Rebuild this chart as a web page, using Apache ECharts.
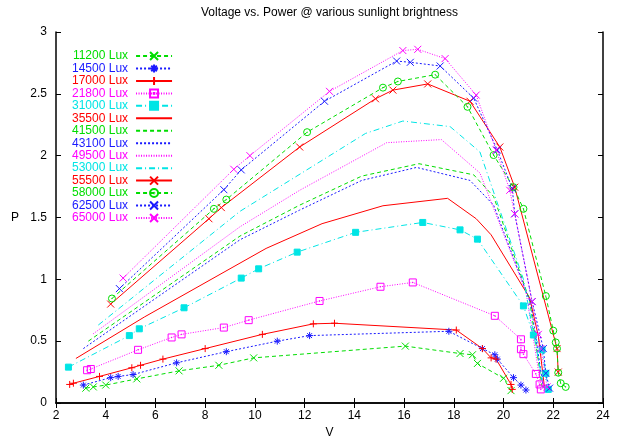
<!DOCTYPE html>
<html><head><meta charset="utf-8">
<script src="https://cdn.jsdelivr.net/npm/echarts@6/dist/echarts.min.js"></script>
<style>html,body{margin:0;padding:0;background:#fff}#c{width:618px;height:441px}</style>
</head><body><div id="c"></div>
<script>
// ---- data ----
const titleText = 'Voltage vs. Power @ various sunlight brightness';
const xName = 'V';
const yName = 'P';
const xMin = 2, xMax = 24, xStep = 2;
const yMin = 0, yMax = 3, yStep = 0.5;
const seriesNames = ['11200 Lux','14500 Lux','17000 Lux','21800 Lux','31000 Lux','35500 Lux','41500 Lux','43100 Lux','49500 Lux','53000 Lux','55500 Lux','58000 Lux','62500 Lux','65000 Lux'];

const s11200 = [[3.2,0.12],[3.5,0.13],[4.0,0.145],[5.25,0.195],[6.95,0.26],[8.55,0.305],[9.95,0.365],[16.05,0.46],[18.25,0.40],[18.75,0.39],[18.95,0.32],[20.0,0.20],[20.3,0.10]];
const s14500 = [[3.1,0.145],[4.2,0.205],[4.5,0.215],[5.1,0.23],[6.85,0.325],[8.85,0.415],[10.9,0.50],[12.2,0.545],[17.8,0.58],[19.15,0.44],[19.65,0.39],[19.75,0.355],[20.4,0.205],[20.7,0.145],[20.9,0.105]];
const s17000 = [[2.55,0.15],[2.7,0.16],[3.75,0.215],[5.05,0.285],[5.4,0.305],[6.3,0.355],[8.0,0.44],[10.3,0.555],[12.35,0.64],[13.2,0.645],[18.1,0.59],[19.15,0.44],[19.5,0.365],[19.7,0.355],[20.3,0.15],[20.35,0.11]];
const s21800 = [[3.25,0.265],[3.4,0.275],[5.3,0.43],[6.65,0.53],[7.05,0.555],[8.75,0.61],[9.75,0.67],[12.6,0.825],[15.05,0.94],[16.35,0.975],[19.65,0.705],[20.7,0.515],[20.7,0.435],[20.8,0.395],[21.3,0.235],[21.45,0.15],[21.5,0.11]];
const s31000 = [[2.5,0.29],[4.95,0.545],[5.35,0.6],[7.15,0.77],[9.45,1.01],[10.15,1.085],[11.7,1.22],[14.05,1.38],[16.75,1.46],[18.25,1.40],[18.95,1.325],[20.8,0.785],[21.2,0.55],[21.55,0.43],[21.7,0.24],[21.8,0.11]];
const s35500 = [[2.8,0.36],[5.55,0.695],[10.45,1.25],[12.7,1.45],[15.15,1.595],[17.75,1.655],[18.9,1.49],[19.5,1.36],[21.05,0.85],[21.4,0.54],[21.65,0.12]];
const s41500 = [[3.3,0.50],[9.4,1.35],[11.8,1.6],[14.3,1.835],[16.6,1.935],[18.8,1.845],[19.6,1.67],[21.05,0.83],[21.55,0.13]];
const s43100 = [[3.1,0.44],[9.4,1.32],[11.8,1.56],[14.3,1.80],[16.5,1.905],[18.65,1.80],[19.6,1.6],[21.1,0.8],[21.6,0.12]];
const s49500 = [[3.5,0.56],[9.4,1.425],[11.8,1.72],[15.3,2.105],[17.5,2.13],[19.05,1.86],[20.9,0.9],[21.5,0.14]];
const s53000 = [[3.7,0.63],[9.4,1.55],[14.45,2.18],[15.95,2.28],[17.85,2.235],[19.05,2.03],[20.8,1.0],[21.6,0.14]];
const s55500 = [[4.2,0.80],[8.15,1.49],[8.65,1.58],[11.8,2.07],[14.85,2.46],[15.55,2.53],[16.95,2.58],[18.65,2.44],[19.85,2.07],[20.45,1.745],[22.15,0.44],[22.2,0.25]];
const s58000 = [[4.25,0.845],[8.35,1.57],[8.85,1.645],[12.1,2.19],[15.15,2.55],[15.75,2.60],[17.25,2.655],[18.55,2.395],[19.6,2.005],[20.4,1.745],[20.8,1.57],[21.7,0.865],[22.0,0.585],[22.1,0.49],[22.15,0.44],[22.2,0.245],[22.3,0.16],[22.5,0.13]];
const s62500 = [[4.55,0.925],[8.75,1.725],[9.45,1.885],[12.8,2.44],[15.7,2.765],[16.25,2.755],[17.45,2.725],[18.8,2.465],[19.75,2.045],[20.35,1.735],[20.45,1.53],[21.15,0.82],[21.6,0.44],[21.7,0.24],[21.85,0.12]];
const s65000 = [[4.7,1.01],[9.15,1.89],[9.8,2.0],[13.0,2.52],[15.95,2.85],[16.55,2.86],[17.65,2.785],[18.9,2.49],[19.7,2.045],[20.25,1.72],[20.45,1.53],[21.15,0.82],[21.4,0.555],[21.5,0.44],[21.75,0.13]];

const seriesData = [s11200,s14500,s17000,s21800,s31000,s35500,s41500,s43100,s49500,s53000,s55500,s58000,s62500,s65000];

// ---- styles ----
const GREEN='#00dd00', BLUE='#1a1aff', RED='#ff0000', MAG='#ff00ff', CYAN='#00e5e5';
const SYM = {
  x: 'path://M0,0L10,10M10,0L0,10',
  plus: 'path://M5,0L5,10M0,5L10,5',
  star: 'path://M5,0L5,10M0,5L10,5M1.5,1.5L8.5,8.5M8.5,1.5L1.5,8.5',
  box: 'path://M0,0L10,0L10,10L0,10ZM4.6,4.6L5.4,4.6L5.4,5.4L4.6,5.4Z',
  fbox: 'rect',
  circ: 'path://M10,5A5,5,0,1,1,0,5A5,5,0,1,1,10,5ZM5.4,5A0.4,0.4,0,1,1,4.6,5A0.4,0.4,0,1,1,5.4,5Z',
  none: 'none'
};
const DASH = { solid:'solid', dash:[4,3], dot:[2,2], fdot:[1,1.5], dashdot:[6,3,1,3] };
const styles = [
  {c:GREEN, d:'dash', s:'x'},
  {c:BLUE, d:'dot', s:'star'},
  {c:RED, d:'solid', s:'plus'},
  {c:MAG, d:'fdot', s:'box'},
  {c:CYAN, d:'dashdot', s:'fbox'},
  {c:RED, d:'solid', s:'none'},
  {c:GREEN, d:'dash', s:'none'},
  {c:BLUE, d:'dot', s:'none'},
  {c:MAG, d:'fdot', s:'none'},
  {c:CYAN, d:'dashdot', s:'none'},
  {c:RED, d:'solid', s:'x'},
  {c:GREEN, d:'dash', s:'circ'},
  {c:BLUE, d:'dot', s:'x'},
  {c:MAG, d:'fdot', s:'x'}
];
const FONT = '"Liberation Sans", Arial, Helvetica, sans-serif';

const chart = echarts.init(document.getElementById('c'), null, {renderer:'canvas'});
const series = seriesNames.map((n,i)=>{
  const st = styles[i];
  const sym = SYM[st.s];
  const hollow = (st.s==='box'||st.s==='circ');
  return {
    name:n, type:'line', data:seriesData[i],
    showSymbol: sym !== 'none', symbol: sym === 'none' ? 'circle' : sym,
    symbolSize: st.s==='fbox' ? 6 : 7,
    lineStyle:{color:st.c, width:1, type:DASH[st.d]},
    itemStyle:{color: hollow ? 'rgba(255,255,255,0)' : st.c, borderColor:st.c, borderWidth:1},
    emphasis:{disabled:true}, animation:false, z:2
  };
});

const axisLineStyle = {lineStyle:{color:'#000', width:1.5}};
chart.setOption({
  animation:false,
  title:{text:titleText, left:196, top:2, textStyle:{fontFamily:FONT, fontSize:12, fontWeight:'normal', color:'#000'}},
  grid:{left:56, right:15, top:32, bottom:38, outerBoundsMode:'none', containLabel:false},
  legend:{
    orient:'vertical', left:67, top:45, align:'right',
    itemWidth:36, itemHeight:10, itemGap:0.46,
    textStyle:{fontFamily:FONT, fontSize:12, padding:[0,3,0,0]},
    data:seriesNames.map((n,i)=>{
      const d = {name:n, textStyle:{color:styles[i].c}};
      if (styles[i].s==='none') d.itemStyle = {opacity:0};
      return d;
    }),
    selectedMode:false
  },
  xAxis:[
    {type:'value', min:xMin, max:xMax, interval:xStep, position:'bottom',
     name:xName, nameLocation:'middle', nameGap:23, nameTextStyle:{fontFamily:FONT, fontSize:12, color:'#000'},
     axisLine:axisLineStyle, axisTick:{inside:true, length:5, lineStyle:{color:'#000'}},
     axisLabel:{fontFamily:FONT, fontSize:12, color:'#000', margin:7}, splitLine:{show:false}},
    {type:'value', min:xMin, max:xMax, interval:xStep, position:'top',
     axisLine:axisLineStyle, axisTick:{inside:true, length:5, lineStyle:{color:'#000'}},
     axisLabel:{show:false}, splitLine:{show:false}}
  ],
  yAxis:[
    {type:'value', min:yMin, max:yMax, interval:yStep, position:'left',
     name:yName, nameLocation:'middle', nameGap:37, nameRotate:0, nameTextStyle:{fontFamily:FONT, fontSize:12, color:'#000'},
     axisLine:axisLineStyle, axisTick:{inside:true, length:5, lineStyle:{color:'#000'}},
     axisLabel:{fontFamily:FONT, fontSize:12, color:'#000', margin:9}, splitLine:{show:false}},
    {type:'value', min:yMin, max:yMax, interval:yStep, position:'right',
     axisLine:axisLineStyle, axisTick:{inside:true, length:5, lineStyle:{color:'#000'}},
     axisLabel:{show:false}, splitLine:{show:false}}
  ],
  series:series
});
</script></body></html>
